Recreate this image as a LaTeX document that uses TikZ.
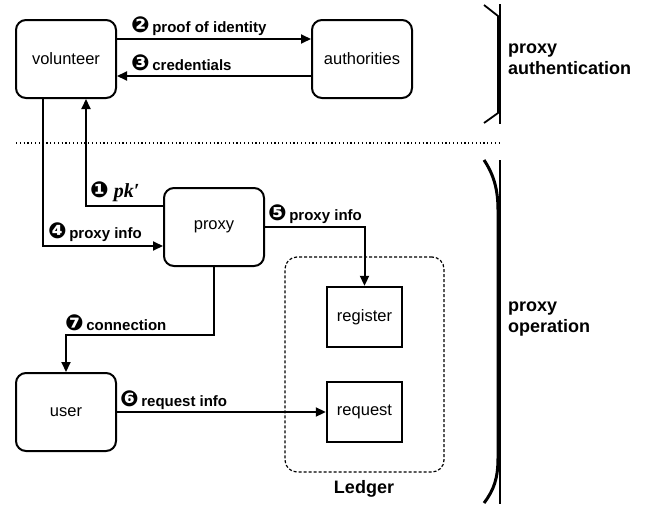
\documentclass[tikz,border=0pt]{standalone}
\usepackage{fontspec}
\setmainfont{Liberation Sans}
\newfontfamily\dv{DejaVu Sans}
\newfontfamily\serifit{Liberation Serif}
\usetikzlibrary{arrows.meta}
\tikzset{
  rbox/.style={draw, line width=2pt, rounded corners=10pt, minimum width=100pt, minimum height=78pt, font=\fontsize{16.5}{18}\selectfont, inner sep=0pt},
  sbox/.style={draw, line width=2.4pt, minimum width=75pt, minimum height=60pt, font=\fontsize{16.5}{18}\selectfont, inner sep=0pt},
  arr/.style={line width=2pt, -{Triangle[length=10pt,width=9pt]}},
  lbl/.style={anchor=west, inner sep=0pt, font=\fontsize{15}{17}\selectfont\bfseries},
  side/.style={anchor=north west, inner sep=0pt, align=left, font=\fontsize{18}{21}\selectfont\bfseries},
  ledgerbox/.style={draw, dash pattern=on 3pt off 2pt, line width=1.2pt, rounded corners=12pt, minimum width=159pt, minimum height=215pt, inner sep=0pt},
}
\newcommand{\cn}[1]{{\dv\fontsize{22}{22}\selectfont #1}}
\begin{document}
\begin{tikzpicture}[x=1pt,y=-1pt]
\useasboundingbox (0,0) rectangle (658,506);
% nodes
\node[rbox] (vol) at (66,59) {volunteer};
\node[rbox] (auth) at (362,59) {authorities};
\node[rbox] (proxy) at (214,227) {proxy};
\node[rbox] (user) at (66,412) {user};
\node[ledgerbox] (ledger) at (364.5,364.5) {};
\node[sbox] (reg) at (364.5,317) {register};
\node[sbox] (req) at (364.5,412) {request};
\node[font=\fontsize{18}{20}\selectfont\bfseries, inner sep=0pt] (ledlbl) at (364,489) {Ledger};
% separator
\coordinate (sepL) at (16,143);
\coordinate (sepR) at (499,143);
\draw[line width=1.2pt, dash pattern=on 1.2pt off 2.6pt] (sepL) -- (sepR);
% connectors
\draw[arr] ([yshift=20pt]vol.east) -- ([yshift=20pt]auth.west);
\draw[arr] ([yshift=-17pt]auth.west) -- ([yshift=-17pt]vol.east);
\draw[arr] ([yshift=21pt]proxy.west) -| ([xshift=20pt]vol.south);
\draw[arr] ([xshift=-23pt]vol.south) |- ([yshift=-19pt]proxy.west);
\draw[arr] (proxy.east) -| (reg.north);
\draw[arr] (proxy.south) -- ++(0,68) -| (user.north);
\draw[arr] (user.east) -- (req.west);
% labels
\node[lbl] (l2) at (131,26) {\cn{❷}\,proof of identity};
\node[lbl] (l3) at (131,63) {\cn{❸}\,credentials};
\node[lbl] (l1) at (90,192) {\cn{❶}\,\,{\serifit\fontsize{20}{20}\selectfont\bfseries\itshape pk\char"2032}};
\node[lbl] (l4) at (48,232) {\cn{❹}\,proxy info};
\node[lbl] (l5) at (268,214) {\cn{❺}\,proxy info};
\node[lbl] (l6) at (120,400) {\cn{❻}\,request info};
\node[lbl] (l7) at (65,323) {\cn{❼}\,connection};
% brackets
\draw[line width=1.2pt] (500,4) -- (500,124);
\draw[line width=1.8pt, line join=round] (484,5) -- (498,16) -- (498,113) -- (484,123);
\draw[line width=1.2pt] (500,160) -- (500,504);
\draw[line width=3pt] (484,160) .. controls (494,175) and (498,190) .. (498,210) -- (498,458) .. controls (498,478) and (494,490) .. (484,503);
% side labels
\node[side] (sa) at (508,44) {proxy\\authentication};
\node[side] (so) at (508,302) {proxy\\operation};
\end{tikzpicture}
\end{document}
